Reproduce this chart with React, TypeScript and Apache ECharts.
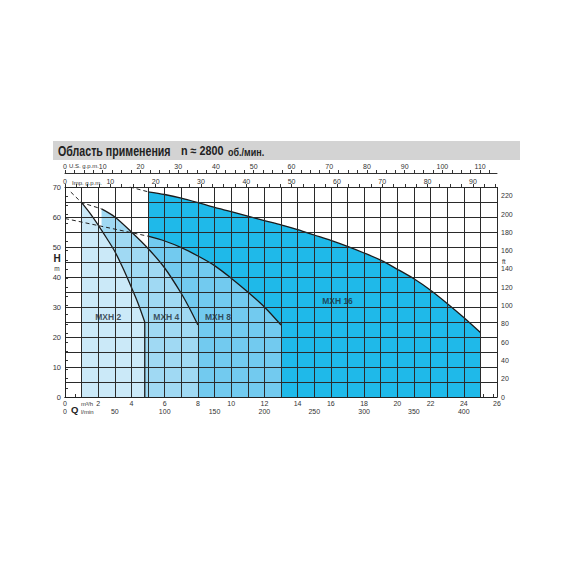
import React, { useEffect, useRef } from "react";
import * as echarts from "echarts";

// ---- data ----
const Q_MAX = 26; // m3/h
const H_MAX = 70; // m
const M_TO_FT = 3.2808;
const M3H_TO_LMIN = 16.6667;
const M3H_TO_USGPM = 4.4029;
const M3H_TO_IMPGPM = 3.6662;

const mxh2Q = [1, 1.5, 2, 2.5, 3, 3.5, 4, 4.4, 4.8];
const mxh2H = [64.8, 61.3, 57.3, 53, 48.5, 42.8, 36.5, 31.2, 25];

const mxh4Q = [2.2, 3, 4, 5, 6, 7, 7.5, 8];
const mxh4H = [62.7, 60, 55, 49.5, 43, 34.5, 29.5, 24];

const mxh8Q = [5, 6, 7, 8, 9, 10, 11, 12, 13];
const mxh8H = [53.6, 52, 49.8, 47, 43.8, 39.6, 35, 30, 24];

const mxh16Q = [5, 6, 7, 8, 9, 10, 11, 12, 13, 14, 15, 16, 17, 18, 19, 20, 21, 22, 23, 24, 25];
const mxh16H = [68.4, 67.5, 66.3, 64.8, 63.2, 61.8, 60.3, 58.8, 57.4, 55.8, 54, 52.2, 50.2, 48, 45.6, 42.6, 39.4, 35.6, 31.2, 26.5, 21.5];

const dashUpper = [[0.35, 68.3], [1, 64.8], [2.2, 62.7]];
const dashTop = [[3.9, 70], [5, 68.4]];
const dashLower = [[0, 59.5], [5, 53.6]];
const mxh2End = [[4.8, 25], [4.8, 0]];

const pumpNames = ["MXH 2", "MXH 4", "MXH 8", "MXH 16"];
const labelQ = [2.6, 6.1, 9.2, 16.4];
const labelH = [26.6, 26.6, 26.6, 32];

const pumpColors = ["#cbe9f8", "#a0d9f3", "#72caef", "#1fb9e9"];

const titleMain = "Область применения";
const titleSpeed = "n ≈ 2800";
const titleUnit = "об./мин.";

const zip = (a: number[], b: number[]) => a.map((v, i) => [v, b[i]]);

export default function App() {
  const ref = useRef<HTMLDivElement>(null);
  useEffect(() => {
    if (!ref.current) return;
    const chart = echarts.init(ref.current, undefined, { renderer: "svg" });
    const font = "Liberation Sans";
    const lbl = { fontFamily: font, fontSize: 7, color: "#333" };
    const areaSeries = (name: string, q: number[], h: number[], color: string) => ({
      name,
      type: "line",
      data: zip(q, h),
      smooth: 0.3,
      symbol: "none",
      z: 2,
      lineStyle: { color: "#1b1b1b", width: 1.3 },
      areaStyle: { color, opacity: 1 },
    });
    const dashSeries = (data: number[][]) => ({
      type: "line",
      data,
      symbol: "none",
      z: 5,
      lineStyle: { color: "#222", width: 1, type: [4, 3] },
    });
    chart.setOption({
      animation: false,
      backgroundColor: "#fff",
      grid: { left: 65, right: 73, top: 187, bottom: 173, containLabel: false },
      xAxis: [
        {
          type: "value", position: "bottom", min: 0, max: Q_MAX, interval: 1, z: 3,
          axisLine: { show: true, lineStyle: { color: "#222", width: 1 } },
          axisTick: { show: false },
          splitLine: { show: true, lineStyle: { color: "#2a2a2a", width: 1 } },
          axisLabel: { ...lbl, margin: 3, formatter: (v: number) => (v % 2 === 0 ? String(v) : "") },
        },
        {
          type: "value", position: "bottom", offset: 22, min: 0, max: Q_MAX * M3H_TO_LMIN, interval: 10,
          axisLine: { show: true, lineStyle: { color: "#333", width: 1 } },
          axisTick: { show: true, inside: true, length: 3, lineStyle: { color: "#333" } },
          splitLine: { show: false },
          axisLabel: { ...lbl, inside: true, margin: 4, showMaxLabel: false, formatter: (v: number) => (v % 50 === 0 ? String(v) : "") },
        },
        {
          type: "value", position: "top", offset: 14, min: 0, max: Q_MAX * M3H_TO_USGPM, interval: 2.5,
          axisLine: { show: true, lineStyle: { color: "#333", width: 1 } },
          axisTick: { show: true, length: 3, lineStyle: { color: "#333" } },
          splitLine: { show: false },
          axisLabel: { ...lbl, margin: 3, showMaxLabel: false, formatter: (v: number) => (v % 10 === 0 ? String(v) : "") },
        },
        {
          type: "value", position: "top", offset: 0, min: 0, max: Q_MAX * M3H_TO_IMPGPM, interval: 2.5,
          axisLine: { show: true, lineStyle: { color: "#222", width: 1 } },
          axisTick: { show: true, length: 3, lineStyle: { color: "#333" } },
          splitLine: { show: false },
          axisLabel: { ...lbl, margin: 2, showMaxLabel: false, formatter: (v: number) => (v % 10 === 0 ? String(v) : "") },
        },
      ],
      yAxis: [
        {
          type: "value", position: "left", min: 0, max: H_MAX, interval: 5, z: 3,
          axisLine: { show: true, lineStyle: { color: "#222", width: 1 } },
          axisTick: { show: false },
          splitLine: { show: true, lineStyle: { color: "#2a2a2a", width: 1 } },
          axisLabel: { ...lbl, fontSize: 7.5, margin: 4, formatter: (v: number) => (v % 10 === 0 ? String(v) : "") },
        },
        {
          type: "value", position: "right", min: 0, max: H_MAX * M_TO_FT, interval: 10,
          axisLine: { show: true, lineStyle: { color: "#222", width: 1 } },
          axisTick: { show: true, length: 3, lineStyle: { color: "#333" } },
          splitLine: { show: false },
          axisLabel: { ...lbl, margin: 4, showMaxLabel: false, formatter: (v: number) => (v % 20 === 0 ? String(v) : "") },
        },
      ],
      series: [
        areaSeries(pumpNames[3], mxh16Q, mxh16H, pumpColors[3]),
        areaSeries(pumpNames[2], mxh8Q, mxh8H, pumpColors[2]),
        areaSeries(pumpNames[1], mxh4Q, mxh4H, pumpColors[1]),
        areaSeries(pumpNames[0], mxh2Q, mxh2H, pumpColors[0]),
        { type: "line", data: mxh2End, symbol: "none", z: 5, lineStyle: { color: "#1b1b1b", width: 1.3 } },
        dashSeries(dashUpper),
        dashSeries(dashTop),
        dashSeries(dashLower),
        {
          type: "scatter",
          z: 6,
          symbolSize: 0,
          data: pumpNames.map((n, i) => ({ name: n, value: [labelQ[i], labelH[i]] })),
          label: {
            show: true, position: "inside", formatter: (p: any) => p.name,
            fontFamily: font, fontWeight: "bold", fontSize: 8.5, color: "#1d2b36",
          },
        },
      ],
      graphic: [
        { type: "rect", z: 0, shape: { x: 53, y: 141, width: 467, height: 19 }, style: { fill: "#d3d3d3" } },
        { type: "text", x: 58, y: 151, scaleX: 0.76, style: { text: titleMain, fontFamily: font, fontWeight: "bold", fontSize: 14, fill: "#222", verticalAlign: "middle" } },
        { type: "text", x: 181, y: 151, scaleX: 0.9, style: { text: titleSpeed, fontFamily: font, fontWeight: "bold", fontSize: 12, fill: "#222", verticalAlign: "middle" } },
        { type: "text", x: 228, y: 152, scaleX: 0.9, style: { text: titleUnit, fontFamily: font, fontWeight: "bold", fontSize: 10, fill: "#222", verticalAlign: "middle" } },
        { type: "text", x: 69, y: 166, style: { text: "U.S. g.p.m.", fontFamily: font, fontSize: 6, fill: "#333", verticalAlign: "middle" } },
        { type: "text", x: 72, y: 183, style: { text: "Imp. g.p.m.", fontFamily: font, fontSize: 6, fill: "#333", verticalAlign: "middle" } },
        { type: "text", x: 57, y: 258, style: { text: "H", fontFamily: font, fontWeight: "bold", fontSize: 10, fill: "#222", align: "center", verticalAlign: "middle" } },
        { type: "text", x: 57, y: 268, style: { text: "m", fontFamily: font, fontSize: 6.5, fill: "#333", align: "center", verticalAlign: "middle" } },
        { type: "text", x: 502, y: 261, style: { text: "ft", fontFamily: font, fontSize: 6.5, fill: "#333", verticalAlign: "middle" } },
        { type: "text", x: 71, y: 409, style: { text: "Q", fontFamily: font, fontWeight: "bold", fontSize: 9.5, fill: "#222", verticalAlign: "middle" } },
        { type: "text", x: 81, y: 403.5, style: { text: "m³/h", fontFamily: font, fontSize: 6, fill: "#333", verticalAlign: "middle" } },
        { type: "text", x: 81, y: 411.5, style: { text: "l/min", fontFamily: font, fontSize: 6, fill: "#333", verticalAlign: "middle" } },
      ],
    });
    return () => chart.dispose();
  }, []);
  return (
    <div
      ref={ref}
      style={{ position: "fixed", left: 0, top: 0, width: 570, height: 570, background: "#fff" }}
    />
  );
}
